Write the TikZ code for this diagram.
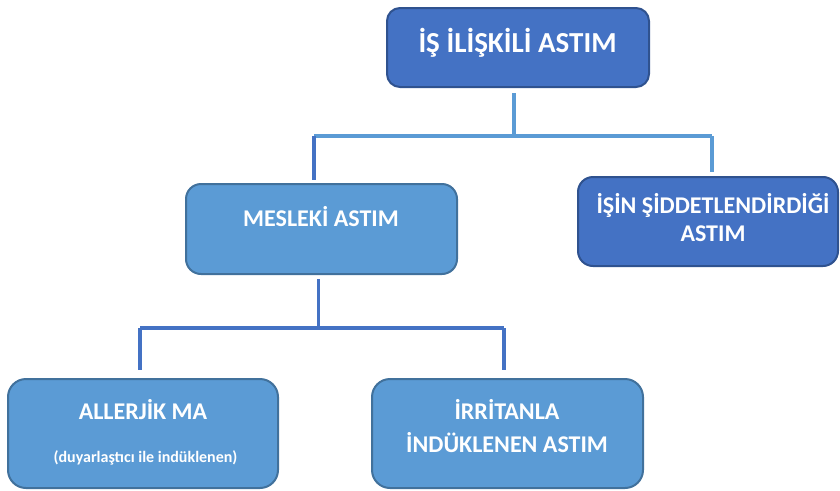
\documentclass[tikz,border=0pt]{standalone}
\usepackage{fontspec}
\setmainfont{Carlito}
\usetikzlibrary{positioning}
\definecolor{boxdark}{HTML}{4472C4}
\definecolor{boxdarkline}{HTML}{2F528F}
\definecolor{boxlight}{HTML}{5B9BD5}
\definecolor{boxlightline}{HTML}{41719C}
\begin{document}
\begin{tikzpicture}[x=1pt,y=-1pt,
      darkbox/.style={draw=boxdarkline,fill=boxdark,line width=2pt,inner sep=0pt},
      lightbox/.style={draw=boxlightline,fill=boxlight,line width=2pt,inner sep=0pt},
      lbl/.style={text=white,font=\bfseries\fontsize{24}{28}\selectfont,anchor=base,inner sep=0pt},
      darklink/.style={draw=boxdark,line width=3.5pt},
      lightlink/.style={draw=boxlight,line width=3.5pt}]
      \useasboundingbox (0,0) rectangle (840,490);
      % boxes
      \node[darkbox, minimum width=262pt, minimum height=79pt, rounded corners=13pt] (top) at (518,47.5) {};
      \node[lightbox, minimum width=271pt, minimum height=90pt, rounded corners=15pt] (mesleki) at (321.5,229) {};
      \node[darkbox, minimum width=260pt, minimum height=89pt, rounded corners=15pt] (isin) at (708,221.5) {};
      \node[lightbox, minimum width=270pt, minimum height=109pt, rounded corners=18pt] (allerjik) at (143,433.5) {};
      \node[lightbox, minimum width=271pt, minimum height=109pt, rounded corners=18pt] (irritan) at (507.5,433.5) {};
      % texts
      \node[lbl, font=\bfseries\fontsize{29}{34}\selectfont] (top-t) at (517.5,52) {İŞ İLİŞKİLİ ASTIM};
      \node[lbl] (mesleki-t) at (321,226) {MESLEKİ ASTIM};
      \node[lbl] (isin-t1) at (713,213) {İŞİN ŞİDDETLENDİRDİĞİ};
      \node[lbl] (isin-t2) at (713,241) {ASTIM};
      \node[lbl] (allerjik-t1) at (143,419) {ALLERJİK MA};
      \node[lbl, font=\bfseries\fontsize{16}{19}\selectfont] (allerjik-t2) at (145.5,462) {(duyarlaştıcı ile indüklenen)};
      \node[lbl] (irritan-t1) at (507,419) {İRRİTANLA};
      \node[lbl] (irritan-t2) at (507,452) {İNDÜKLENEN ASTIM};
      % connectors
      \coordinate (b1) at (514,136);
      \coordinate (c1) at (314,136);
      \coordinate (c2) at (712,136);
      \draw[lightlink, shorten <=5pt] (b1 |- top.south) -- (b1);
      \draw[lightlink] (c1) -- (c2);
      \draw[darklink, shorten >=3pt] (c1) -- (c1 |- mesleki.north);
      \draw[lightlink, shorten >=4pt] (c2) -- (c2 |- isin.north);
      \coordinate (b2) at (318.5,328);
      \coordinate (d1) at (140,328);
      \coordinate (d2) at (504,328);
      \draw[darklink, shorten <=4pt] (b2 |- mesleki.south) -- (b2);
      \draw[darklink] (d1) -- (d2);
      \draw[darklink, shorten >=8pt] (d1) -- (d1 |- allerjik.north);
      \draw[darklink, shorten >=8pt] (d2) -- (d2 |- irritan.north);
    \end{tikzpicture}
\end{document}
